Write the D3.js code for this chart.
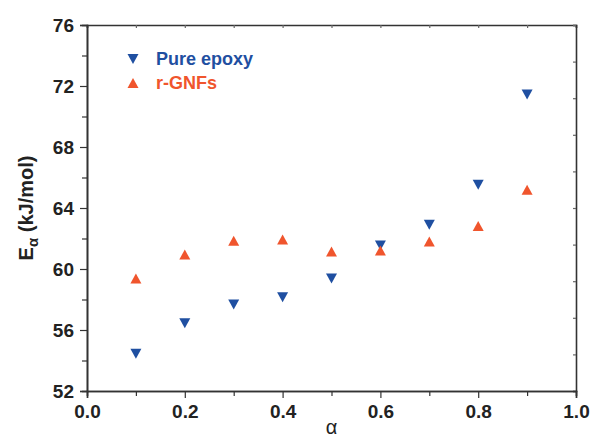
<!DOCTYPE html>
<html>
<head>
<meta charset="utf-8">
<script src="https://cdn.jsdelivr.net/npm/d3@7"></script>
<style>
  body { margin: 0; background: #fff; }
  svg { display: block; font-family: "Liberation Sans", Arial, sans-serif; }
</style>
</head>
<body>
<div id="chart"></div>
<script>
// conversion values
const alphas = [0.1, 0.2, 0.3, 0.4, 0.5, 0.6, 0.7, 0.8, 0.9];
const pureEpoxy = [54.45, 56.45, 57.67, 58.14, 59.37, 61.54, 62.9, 65.53, 71.45];
const rGNFs = [59.37, 60.95, 61.85, 61.93, 61.14, 61.21, 61.81, 62.82, 65.19];

const seriesNames = ["Pure epoxy", "r-GNFs"];
const seriesColors = ["#1f4fa1", "#f0552d"];

const xTicks = [0.0, 0.2, 0.4, 0.6, 0.8, 1.0];
const yTicks = [52, 56, 60, 64, 68, 72, 76];

const width = 590, height = 439;
const margin = {top: 25, right: 14, bottom: 48, left: 87};
const plotW = width - margin.left - margin.right;
const plotH = height - margin.top - margin.bottom;

const svg = d3.select("#chart").append("svg")
    .attr("width", width)
    .attr("height", height);

const g = svg.append("g")
    .attr("transform", "translate(" + margin.left + "," + margin.top + ")");

let xScale = d3.scaleLinear().domain([0, 1]).range([0, plotW]);
let yScale = d3.scaleLinear().domain([52, 76]).range([plotH, 0]);

// triangles centred on their bounding box
const triW = 11, triH = 10;
const triUp = {draw(ctx) {
    ctx.moveTo(0, -triH / 2); ctx.lineTo(triW / 2, triH / 2); ctx.lineTo(-triW / 2, triH / 2); ctx.closePath();
}};
const triDown = {draw(ctx) {
    ctx.moveTo(0, triH / 2); ctx.lineTo(triW / 2, -triH / 2); ctx.lineTo(-triW / 2, -triH / 2); ctx.closePath();
}};
const shapes = [triDown, triUp];

const axisColor = "#333";

// top and right inner ticks
let topAxis = d3.axisTop(xScale).tickValues(d3.range(0, 1.0001, 0.1)).tickSize(-3).tickFormat("");
g.append("g").attr("class", "topAxis").call(topAxis);

let rightAxis = d3.axisRight(yScale).tickValues(d3.range(52, 76.01, 2.4)).tickSize(-3).tickFormat("");
g.append("g").attr("class", "rightAxis")
    .attr("transform", "translate(" + plotW + ",0)")
    .call(rightAxis);

// minor ticks
let xMinor = d3.axisBottom(xScale).tickValues(d3.range(0.1, 1, 0.2)).tickSize(5).tickFormat("");
g.append("g").attr("class", "minor").attr("transform", "translate(0," + plotH + ")").call(xMinor);
let yMinor = d3.axisLeft(yScale).tickValues(d3.range(54, 76, 4)).tickSize(5).tickFormat("");
g.append("g").attr("class", "minor").call(yMinor);

// major axes
let axisx = d3.axisBottom(xScale).tickValues(xTicks).tickSize(7).tickPadding(7)
    .tickFormat(d3.format(".1f"));
g.append("g").attr("class", "xAxis")
    .attr("transform", "translate(0," + plotH + ")")
    .call(axisx);

let axisy = d3.axisLeft(yScale).tickValues(yTicks).tickSize(7).tickPadding(6)
    .tickFormat(d3.format("d"));
g.append("g").attr("class", "yAxis").call(axisy);

g.selectAll(".domain").attr("stroke", axisColor).attr("stroke-width", 1.6);
g.selectAll(".tick line").attr("stroke", axisColor).attr("stroke-width", 1.2);
g.selectAll(".topAxis .tick line, .rightAxis .tick line").attr("stroke", "#666");
g.selectAll(".xAxis text, .yAxis text")
    .attr("fill", "#222")
    .style("font-size", "19px")
    .style("font-weight", "bold");
g.selectAll(".yAxis text").attr("dy", "0.36em");

// axis titles
svg.append("text")
    .attr("x", margin.left + plotW / 2)
    .attr("y", 434)
    .attr("text-anchor", "middle")
    .style("font-size", "20px")
    .attr("fill", "#222")
    .text("α");

let yTitle = svg.append("text")
    .attr("transform", "translate(33," + (margin.top + plotH / 2) + ") rotate(-90)")
    .attr("text-anchor", "middle")
    .style("font-size", "20px")
    .style("font-weight", "bold")
    .attr("fill", "#222");
yTitle.append("tspan").text("E");
yTitle.append("tspan").attr("dy", 5).style("font-size", "15px").text("α");
yTitle.append("tspan").attr("dy", -5).text(" (kJ/mol)");

// data points
const allSeries = [pureEpoxy, rGNFs];
allSeries.forEach((vals, i) => {
    g.append("g").selectAll("path")
        .data(alphas.map((a, k) => ({a: a, v: vals[k]})))
        .enter().append("path")
        .attr("d", d3.symbol().type(shapes[i]))
        .attr("transform", d => "translate(" + xScale(d.a) + "," + yScale(d.v) + ")")
        .attr("fill", seriesColors[i]);
});

// legend
let legend = svg.append("g").attr("transform", "translate(133,59)");
seriesNames.forEach((name, i) => {
    let row = legend.append("g").attr("transform", "translate(0," + (i * 24) + ")");
    row.append("path")
        .attr("d", d3.symbol().type(shapes[i]))
        .attr("fill", seriesColors[i]);
    row.append("text")
        .attr("x", 23)
        .attr("y", 6)
        .style("font-size", "18px")
        .style("font-weight", "bold")
        .attr("fill", seriesColors[i])
        .text(name);
});
</script>
</body>
</html>
